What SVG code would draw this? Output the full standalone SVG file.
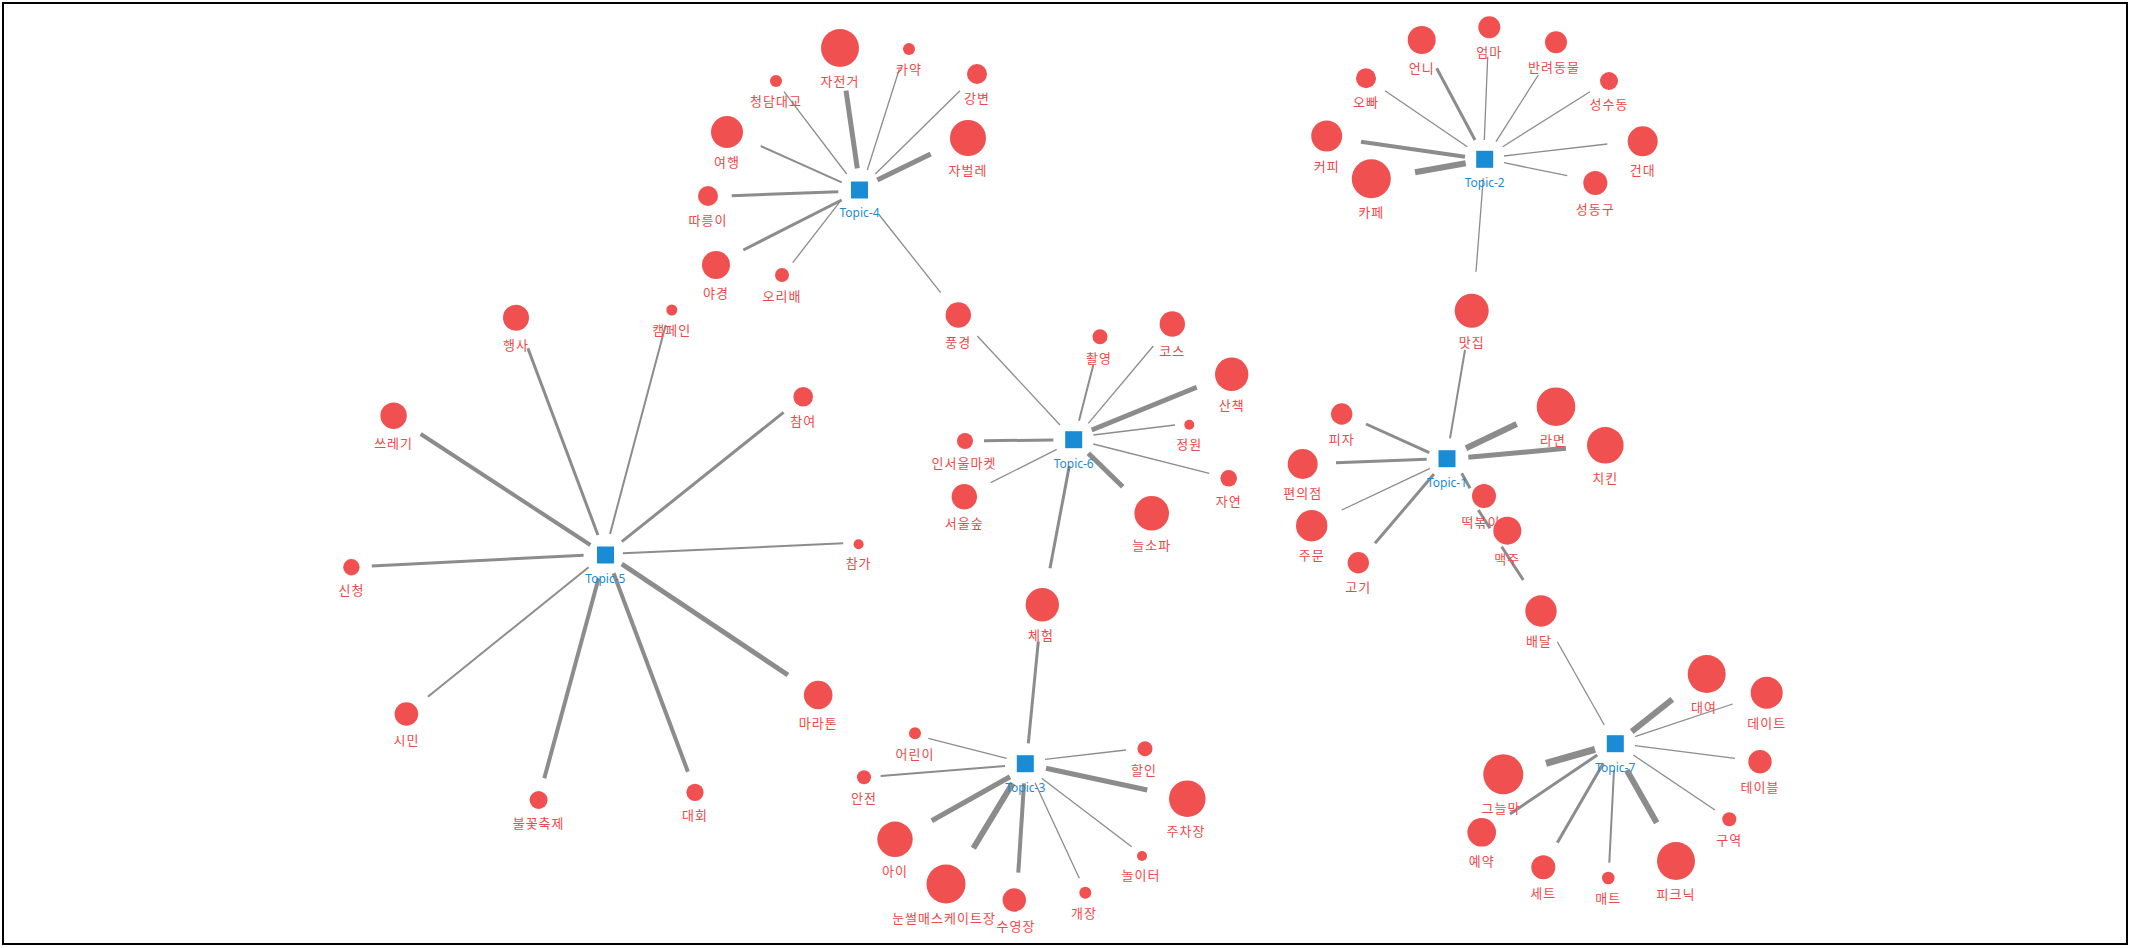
<svg xmlns="http://www.w3.org/2000/svg" width="2132" height="948" viewBox="0 0 2132 948">
<style>
.n circle{fill:#f05050}
.n text{fill:#f04848;font-family:"Noto Sans CJK KR","Noto Sans",sans-serif;font-size:13px;letter-spacing:1px;text-anchor:middle}
.t rect{fill:#1a8cd6}
.t text{fill:#1a8cd6;font-family:"Noto Sans","Liberation Sans",sans-serif;font-size:12px;text-anchor:middle}
#connectors line,#connectors path{stroke:#8c8c8c;fill:none}
.w1{stroke-width:1.3}.w2{stroke-width:2}.w3{stroke-width:3}.w4{stroke-width:4}.w5{stroke-width:5}.w6{stroke-width:6}.w7{stroke-width:7}
</style>
<rect x="3" y="3" width="2124" height="941" fill="#fff" stroke="#000" stroke-width="2"/>
<g id="connectors">
<line class="w1" x1="784" y1="91.7" x2="846.7" y2="174"/>
<line class="w5" x1="846" y1="90.7" x2="857.3" y2="168.3"/>
<line class="w1" x1="899.3" y1="69.3" x2="867.3" y2="170"/>
<line class="w1" x1="960" y1="90.7" x2="875.3" y2="174"/>
<line class="w5" x1="930.7" y1="154" x2="877.3" y2="180"/>
<line class="w2" x1="760.7" y1="146" x2="841.7" y2="182.3"/>
<line class="w3" x1="731.7" y1="195.7" x2="838.3" y2="191.7"/>
<line class="w3" x1="743.3" y1="250" x2="841.7" y2="200"/>
<line class="w1" x1="792.7" y1="262.7" x2="840" y2="201.7"/>
<line class="w1" x1="879.3" y1="215" x2="940.7" y2="292.7"/>
<line class="w3" x1="1436.7" y1="68.3" x2="1475" y2="140"/>
<line class="w1" x1="1487.7" y1="56.7" x2="1484.3" y2="140"/>
<line class="w1" x1="1538.3" y1="75" x2="1496" y2="141.7"/>
<line class="w1" x1="1385" y1="90.7" x2="1467.3" y2="146.7"/>
<line class="w1" x1="1590" y1="91.7" x2="1502.7" y2="146.7"/>
<line class="w4" x1="1361" y1="141.7" x2="1465" y2="156.7"/>
<line class="w6" x1="1415" y1="172.3" x2="1465.7" y2="163.3"/>
<line class="w1" x1="1607.3" y1="144" x2="1504" y2="156"/>
<line class="w1" x1="1567.3" y1="175.7" x2="1504" y2="162.7"/>
<line class="w1" x1="1483.3" y1="178.3" x2="1476" y2="271.7"/>
<line class="w3" x1="527.9" y1="348.3" x2="597.9" y2="535"/>
<line class="w2" x1="665.7" y1="325" x2="610" y2="534"/>
<line class="w4" x1="420.7" y1="434" x2="590.4" y2="545"/>
<line class="w3" x1="783.6" y1="412.3" x2="621.8" y2="541.7"/>
<line class="w3" x1="371.8" y1="566" x2="583.6" y2="555.3"/>
<line class="w2" x1="843.2" y1="543.3" x2="622.9" y2="553.3"/>
<line class="w2" x1="427.9" y1="696.7" x2="588.6" y2="567.3"/>
<line class="w4" x1="544.3" y1="778.3" x2="598.6" y2="578.3"/>
<line class="w4" x1="687.9" y1="771.7" x2="613.6" y2="573.3"/>
<line class="w5" x1="787.9" y1="675" x2="621.8" y2="564"/>
<line class="w1" x1="977.3" y1="336" x2="1060" y2="425"/>
<line class="w2" x1="1093.3" y1="365" x2="1079" y2="420.7"/>
<line class="w1" x1="1153.3" y1="346" x2="1088.3" y2="423.3"/>
<line class="w5" x1="1196.7" y1="387.3" x2="1091.7" y2="430"/>
<line class="w1" x1="1175" y1="425" x2="1093.3" y2="435"/>
<line class="w1" x1="1209.3" y1="473.3" x2="1093.3" y2="444"/>
<line class="w5" x1="1122.7" y1="486.7" x2="1088.3" y2="453.3"/>
<line class="w3" x1="984" y1="440.7" x2="1053.3" y2="440"/>
<line class="w1" x1="990.7" y1="482.7" x2="1056.7" y2="449.3"/>
<line class="w3" x1="1050" y1="568.3" x2="1069.3" y2="466"/>
<line class="w2" x1="1450" y1="438.3" x2="1465" y2="350"/>
<line class="w3" x1="1366" y1="424" x2="1429.3" y2="452.7"/>
<line class="w6" x1="1516.7" y1="424" x2="1466" y2="448.3"/>
<line class="w5" x1="1566" y1="448.3" x2="1468.3" y2="457.3"/>
<line class="w3" x1="1336" y1="462.7" x2="1426.7" y2="459.3"/>
<line class="w1" x1="1341.7" y1="510" x2="1430" y2="468.3"/>
<line class="w3" x1="1375" y1="543.3" x2="1434" y2="474"/>
<path class="w3" d="M1461.7,473.3 L1470,488.3 M1478.3,510 L1490,528.3 M1501.7,546.7 L1523.3,580"/>
<line class="w3" x1="1038.3" y1="641.7" x2="1028.3" y2="743.3"/>
<line class="w1" x1="928.3" y1="738.3" x2="1006.7" y2="758.3"/>
<line class="w2" x1="880.7" y1="776" x2="1005" y2="766"/>
<line class="w1" x1="1126" y1="750" x2="1045" y2="759.3"/>
<line class="w5" x1="1147.3" y1="790" x2="1046" y2="768.3"/>
<line class="w5" x1="931.7" y1="820.7" x2="1010" y2="776.7"/>
<line class="w6" x1="973.3" y1="848.3" x2="1012.7" y2="783.3"/>
<line class="w4" x1="1018.3" y1="872.7" x2="1024" y2="783.3"/>
<line class="w1" x1="1079.3" y1="878.3" x2="1035" y2="782.7"/>
<line class="w1" x1="1131.7" y1="846.7" x2="1041.7" y2="778.3"/>
<line class="w1" x1="1557.3" y1="641.7" x2="1604.3" y2="725"/>
<line class="w6" x1="1672.3" y1="699.3" x2="1631.7" y2="731.7"/>
<line class="w1" x1="1732.7" y1="704" x2="1635" y2="736.7"/>
<line class="w1" x1="1735" y1="758.3" x2="1635" y2="745.7"/>
<line class="w1" x1="1715" y1="810" x2="1633.3" y2="755"/>
<line class="w6" x1="1656.7" y1="822.7" x2="1626.7" y2="770"/>
<line class="w2" x1="1609.3" y1="862.7" x2="1614" y2="770"/>
<line class="w3" x1="1557.3" y1="842.7" x2="1603.3" y2="763.3"/>
<line class="w7" x1="1546" y1="763.3" x2="1595" y2="749.3"/>
<line class="w3" x1="1510" y1="814" x2="1597.3" y2="755"/>
</g>
<g id="topic-4" class="t"><rect x="851" y="181.5" width="17" height="17"/><text x="859.5" y="217">Topic-4</text></g>
<g id="topic-2" class="t"><rect x="1476.2" y="150.8" width="17" height="17"/><text x="1484.7" y="187">Topic-2</text></g>
<g id="topic-5" class="t"><rect x="597" y="546.5" width="17" height="17"/><text x="605.4" y="583">Topic-5</text></g>
<g id="topic-6" class="t"><rect x="1065.2" y="431.2" width="17" height="17"/><text x="1073.7" y="468">Topic-6</text></g>
<g id="topic-1" class="t"><rect x="1438.5" y="450.2" width="17" height="17"/><text x="1447" y="487">Topic-1</text></g>
<g id="topic-3" class="t"><rect x="1016.8" y="755.2" width="17" height="17"/><text x="1025.3" y="792">Topic-3</text></g>
<g id="topic-7" class="t"><rect x="1606.8" y="735.2" width="17" height="17"/><text x="1615.3" y="772">Topic-7</text></g>
<g id="n-jajeongeo" class="n"><circle cx="840" cy="48" r="19"/><text x="840" y="86">자전거</text></g>
<g id="n-kayak" class="n"><circle cx="909" cy="49" r="6"/><text x="909" y="74">카약</text></g>
<g id="n-gangbyeon" class="n"><circle cx="977" cy="74" r="10"/><text x="977" y="103">강변</text></g>
<g id="n-cheongdam" class="n"><circle cx="776" cy="81" r="6"/><text x="776" y="106">청담대교</text></g>
<g id="n-yeohaeng" class="n"><circle cx="727" cy="132" r="16"/><text x="727" y="167">여행</text></g>
<g id="n-jabeolle" class="n"><circle cx="968" cy="138" r="18"/><text x="968" y="175">자벌레</text></g>
<g id="n-ttareungi" class="n"><circle cx="708" cy="196" r="10"/><text x="708" y="225">따릉이</text></g>
<g id="n-yagyeong" class="n"><circle cx="716" cy="265" r="14"/><text x="716" y="298">야경</text></g>
<g id="n-oribae" class="n"><circle cx="782" cy="275" r="7"/><text x="782" y="301">오리배</text></g>
<g id="n-eonni" class="n"><circle cx="1421.7" cy="40" r="14"/><text x="1421.7" y="73">언니</text></g>
<g id="n-eomma" class="n"><circle cx="1489.3" cy="27.3" r="11"/><text x="1489.3" y="57">엄마</text></g>
<g id="n-pet" class="n"><circle cx="1556" cy="42.3" r="11"/><text x="1554" y="72">반려동물</text></g>
<g id="n-oppa" class="n"><circle cx="1366" cy="78.3" r="10"/><text x="1366" y="107">오빠</text></g>
<g id="n-seongsu" class="n"><circle cx="1609" cy="81" r="9"/><text x="1609" y="109">성수동</text></g>
<g id="n-coffee" class="n"><circle cx="1326.7" cy="136" r="15.5"/><text x="1326.7" y="170.5">커피</text></g>
<g id="n-cafe" class="n"><circle cx="1371.3" cy="178.7" r="19.5"/><text x="1371.3" y="217">카페</text></g>
<g id="n-kondae" class="n"><circle cx="1642.7" cy="141.3" r="15"/><text x="1642.7" y="175">건대</text></g>
<g id="n-seongdong" class="n"><circle cx="1595.3" cy="183" r="12"/><text x="1595.3" y="214">성동구</text></g>
<g id="n-haengsa" class="n"><circle cx="516" cy="317.7" r="13"/><text x="516" y="350">행사</text></g>
<g id="n-campaign" class="n"><circle cx="671.8" cy="310" r="5.5"/><text x="671.8" y="334.5">캠페인</text></g>
<g id="n-sseuregi" class="n"><circle cx="393.6" cy="415.7" r="13.2"/><text x="393.6" y="448">쓰레기</text></g>
<g id="n-chamyeo" class="n"><circle cx="803.2" cy="396.7" r="9.8"/><text x="803.2" y="425.5">참여</text></g>
<g id="n-sincheong" class="n"><circle cx="351.4" cy="567.3" r="8.2"/><text x="351.4" y="594.5">신청</text></g>
<g id="n-chamga" class="n"><circle cx="858.6" cy="544.3" r="5"/><text x="858.6" y="568">참가</text></g>
<g id="n-simin" class="n"><circle cx="406.4" cy="714" r="11.8"/><text x="406.4" y="745">시민</text></g>
<g id="n-fireworks" class="n"><circle cx="538.6" cy="800" r="9"/><text x="538.6" y="828">불꽃축제</text></g>
<g id="n-daehoe" class="n"><circle cx="695" cy="792.3" r="8.6"/><text x="695" y="820">대회</text></g>
<g id="n-marathon" class="n"><circle cx="818.2" cy="695" r="14.3"/><text x="818.2" y="728">마라톤</text></g>
<g id="n-punggyeong" class="n"><circle cx="958.3" cy="315" r="12.7"/><text x="958.3" y="347">풍경</text></g>
<g id="n-chwaryeong" class="n"><circle cx="1100" cy="336.7" r="7.5"/><text x="1099" y="363">촬영</text></g>
<g id="n-course" class="n"><circle cx="1172.3" cy="324" r="12.7"/><text x="1172.3" y="356">코스</text></g>
<g id="n-sanchaek" class="n"><circle cx="1231.7" cy="374.3" r="16.7"/><text x="1231.7" y="410">산책</text></g>
<g id="n-jeongwon" class="n"><circle cx="1189.3" cy="424.7" r="5"/><text x="1189.3" y="449">정원</text></g>
<g id="n-inseoul" class="n"><circle cx="965" cy="441" r="8"/><text x="964" y="468">인서울마켓</text></g>
<g id="n-seoulsup" class="n"><circle cx="964.3" cy="496.7" r="12.7"/><text x="964.3" y="528">서울숲</text></g>
<g id="n-sofa" class="n"><circle cx="1151.7" cy="513.3" r="17.3"/><text x="1151.7" y="550">늘소파</text></g>
<g id="n-jayeon" class="n"><circle cx="1228.7" cy="478.3" r="8.3"/><text x="1228.7" y="506">자연</text></g>
<g id="n-matjip" class="n"><circle cx="1471.7" cy="310.7" r="17"/><text x="1471.7" y="347">맛집</text></g>
<g id="n-pizza" class="n"><circle cx="1341.7" cy="414" r="10.7"/><text x="1341.7" y="444">피자</text></g>
<g id="n-ramyeon" class="n"><circle cx="1556" cy="406.7" r="19.3"/><text x="1553" y="445">라면</text></g>
<g id="n-chicken" class="n"><circle cx="1605.3" cy="445.3" r="18.3"/><text x="1605.3" y="483">치킨</text></g>
<g id="n-cvs" class="n"><circle cx="1302.7" cy="464" r="15"/><text x="1302.7" y="498">편의점</text></g>
<g id="n-jumun" class="n"><circle cx="1311.7" cy="525.7" r="15.7"/><text x="1311.7" y="560">주문</text></g>
<g id="n-gogi" class="n"><circle cx="1358.3" cy="562.7" r="10.7"/><text x="1358.3" y="592">고기</text></g>
<g id="n-tteokbokki" class="n"><circle cx="1484" cy="496" r="12"/><text x="1481" y="527">떡볶이</text></g>
<g id="n-maekju" class="n"><circle cx="1507.3" cy="530.7" r="14"/><text x="1507.3" y="564">맥주</text></g>
<g id="n-cheheom" class="n"><circle cx="1042.3" cy="604.7" r="16.7"/><text x="1041" y="640">체험</text></g>
<g id="n-eorini" class="n"><circle cx="915" cy="733.3" r="6"/><text x="915" y="759">어린이</text></g>
<g id="n-anjeon" class="n"><circle cx="864" cy="777.3" r="7"/><text x="864" y="803">안전</text></g>
<g id="n-halin" class="n"><circle cx="1145" cy="748.7" r="7.5"/><text x="1144" y="775">할인</text></g>
<g id="n-parking" class="n"><circle cx="1187.3" cy="798.7" r="18.3"/><text x="1186" y="836">주차장</text></g>
<g id="n-ai" class="n"><circle cx="895" cy="839.3" r="17.7"/><text x="895" y="876">아이</text></g>
<g id="n-sled" class="n"><circle cx="946" cy="884" r="19.5"/><text x="944" y="922.5">눈썰매스케이트장</text></g>
<g id="n-pool" class="n"><circle cx="1014.3" cy="900" r="11.7"/><text x="1016" y="931">수영장</text></g>
<g id="n-gaejang" class="n"><circle cx="1085.3" cy="892.7" r="6"/><text x="1084" y="918">개장</text></g>
<g id="n-playground" class="n"><circle cx="1142" cy="856" r="5"/><text x="1141" y="880">놀이터</text></g>
<g id="n-baedal" class="n"><circle cx="1541" cy="611" r="15.7"/><text x="1539" y="646">배달</text></g>
<g id="n-daeyeo" class="n"><circle cx="1706.7" cy="674" r="19"/><text x="1704" y="712">대여</text></g>
<g id="n-date" class="n"><circle cx="1766.7" cy="692.7" r="16"/><text x="1766.7" y="728">데이트</text></g>
<g id="n-table" class="n"><circle cx="1760" cy="761.7" r="11.7"/><text x="1760" y="792">테이블</text></g>
<g id="n-shade" class="n"><circle cx="1503.3" cy="774.3" r="20"/><text x="1501" y="813">그늘막</text></g>
<g id="n-yeyak" class="n"><circle cx="1481.7" cy="832.3" r="14.3"/><text x="1481.7" y="866">예약</text></g>
<g id="n-set" class="n"><circle cx="1543.3" cy="867.3" r="12"/><text x="1543.3" y="898">세트</text></g>
<g id="n-mat" class="n"><circle cx="1608.3" cy="878" r="6.3"/><text x="1608.3" y="903">매트</text></g>
<g id="n-picnic" class="n"><circle cx="1676" cy="861" r="19"/><text x="1676" y="899">피크닉</text></g>
<g id="n-guyeok" class="n"><circle cx="1729.3" cy="819.3" r="7"/><text x="1729.3" y="845">구역</text></g>
</svg>
